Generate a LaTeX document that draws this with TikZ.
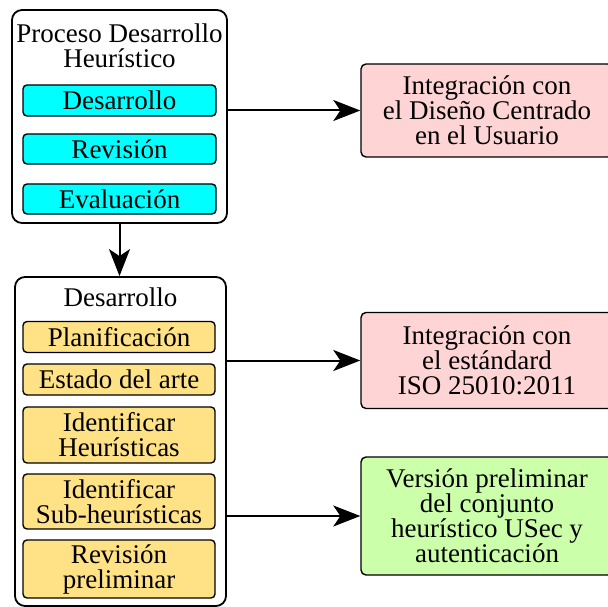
\documentclass[tikz,border=0pt]{standalone}
\usepackage{fontspec}
\setmainfont{Liberation Serif}
\usetikzlibrary{arrows.meta}
\definecolor{cajaCian}{RGB}{0,255,255}
\definecolor{cajaAmarilla}{RGB}{255,226,133}
\definecolor{cajaRosa}{RGB}{255,212,212}
\definecolor{cajaVerde}{RGB}{204,255,170}
\begin{document}
\begin{tikzpicture}[x=1pt,y=-1pt,
   every node/.style={font=\fontsize{27}{25}\selectfont, align=center, inner sep=0pt},
   marco/.style={draw, line width=1.8pt, rounded corners=10pt},
   fase/.style={draw, line width=1.4pt, rounded corners=4pt, minimum width=#1},
   resultado/.style={draw, line width=1.4pt, rounded corners=5pt, minimum width=252pt},
   flecha/.style={line width=2pt, -{Stealth[length=27pt,width=21pt,inset=7pt]}}]
   \useasboundingbox (0,0) rectangle (608,607);
   % bloque superior
   \node[marco, minimum width=215pt, minimum height=213pt] (procA) at (119.5,116.5) {};
   \node (titA) at (119.5,46) {Proceso Desarrollo\\Heurístico};
   \node[fase=193pt, fill=cajaCian, minimum height=31pt] (desA) at (119.5,100.5) {Desarrollo};
   \node[fase=193pt, fill=cajaCian, minimum height=30pt] (revA) at (119.5,149) {Revisión};
   \node[fase=193pt, fill=cajaCian, minimum height=30pt] (evaA) at (119.5,199) {Evaluación};
   % bloque inferior
   \node[marco, minimum width=211pt, minimum height=329pt] (procB) at (120.5,441.5) {};
   \node (titB) at (120.5,297) {Desarrollo};
   \node[fase=192pt, fill=cajaAmarilla, minimum height=31pt] (plan) at (119,337) {Planificación};
   \node[fase=192pt, fill=cajaAmarilla, minimum height=31pt] (estado) at (119,379.5) {Estado del arte};
   \node[fase=192pt, fill=cajaAmarilla, minimum height=56pt] (idHeu) at (119,435) {Identificar\\Heurísticas};
   \node[fase=192pt, fill=cajaAmarilla, minimum height=55pt] (idSub) at (119,501.5) {Identificar\\Sub-heurísticas};
   \node[fase=192pt, fill=cajaAmarilla, minimum height=58pt] (revPre) at (119,569) {Revisión\\preliminar};
   % resultados
   \node[resultado, fill=cajaRosa, minimum height=93pt] (dcu) at (487,110.5)
      {Integración con\\el Diseño Centrado\\en el Usuario};
   \node[resultado, fill=cajaRosa, minimum height=96pt] (iso) at (487,360.5)
      {Integración con\\el estándard\\ISO 25010:2011};
   \node[resultado, fill=cajaVerde, minimum height=118pt] (usec) at (487,516)
      {Versión preliminar\\del conjunto\\heurístico USec y\\autenticación};
   % conectores
   \draw[flecha] (dcu.west -| procA.east) -- (dcu.west);
   \draw[flecha] (procA.south) -- (procA.south |- procB.north);
   \draw[flecha] (iso.west -| procB.east) -- (iso.west);
   \draw[flecha] (usec.west -| procB.east) -- (usec.west);
\end{tikzpicture}
\end{document}
